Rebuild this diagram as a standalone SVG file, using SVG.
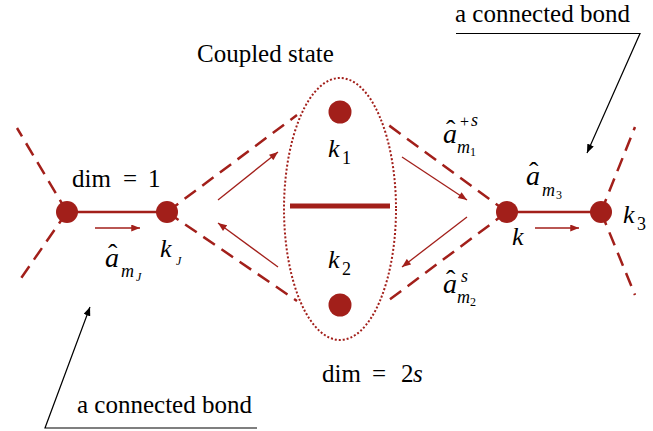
<svg xmlns="http://www.w3.org/2000/svg" width="653" height="431" viewBox="0 0 653 431">
<defs>
<marker id="ra" viewBox="0 0 10 8" refX="10" refY="4" markerWidth="10" markerHeight="7" markerUnits="userSpaceOnUse" orient="auto"><path d="M0,0 L10,4 L0,8 Z" fill="#a21f1a"/></marker>
<marker id="ka" viewBox="0 0 10 8" refX="10" refY="4" markerWidth="9" markerHeight="7" markerUnits="userSpaceOnUse" orient="auto"><path d="M0,0 L10,4 L0,8 Z" fill="#000"/></marker>
</defs>
<style>
.dash{stroke:#a21f1a;stroke-width:2.5;stroke-dasharray:14 8;fill:none}
.bond{stroke:#a21f1a;stroke-width:2.5;fill:none}
.arr{stroke:#a21f1a;stroke-width:1.3;fill:none;marker-end:url(#ra)}
.call{stroke:#000;stroke-width:1.2;fill:none}
.node{fill:#a21f1a}
.t{font-size:25px}
.i{font-style:italic;font-size:26px}
.a{font-style:italic;font-size:28px}
.s{font-style:italic;font-size:18px}
.n{font-size:18px}
.p{font-size:16px}
.ss{font-style:italic;font-size:12px}
.sn{font-size:12px}
.hat{font-style:normal;font-size:28px}
</style>
<rect width="653" height="431" fill="#fff"/>
<g id="connectors">
<path class="dash" d="M67,212 L17,128"/>
<path class="dash" d="M67,212 L17,284"/>
<path class="bond" d="M67,212 L167,212"/>
<path class="dash" d="M167,212 L297,115"/>
<path class="dash" d="M167,212 L297,301"/>
<path class="dash" d="M507,212 L383,121"/>
<path class="dash" d="M507,212 L385,303"/>
<path class="bond" d="M507,212 L601,212"/>
<path class="dash" d="M601,212 L635,127"/>
<path class="dash" d="M601,212 L635,295"/>
<path class="arr" d="M95,228 L140,228"/>
<path class="arr" d="M218,200 L278,152"/>
<path class="arr" d="M278,267 L218,223"/>
<path class="arr" d="M402,157 L467,200"/>
<path class="arr" d="M467,217 L402,267"/>
<path class="arr" d="M535,228 L579,228"/>
<path class="call" d="M257,428 L45,428 L90,307" marker-end="url(#ka)"/>
<path class="call" d="M456,33.5 L640,33.5 L587,153" marker-end="url(#ka)"/>
</g>
<g id="coupled">
<ellipse cx="340" cy="209" rx="56" ry="131" fill="none" stroke="#a21f1a" stroke-width="2" stroke-dasharray="2 2"/>
<path d="M290,206 L390,206" stroke="#a21f1a" stroke-width="5"/>
</g>
<g font-family="'Liberation Serif', 'Times New Roman', 'DejaVu Serif', serif" fill="#000">
<g id="n-left"><circle class="node" cx="67" cy="212" r="11"/></g>
<g id="n-kJ"><circle class="node" cx="167" cy="212" r="11"/>
<text class="i" x="160" y="257">k</text><text class="ss" x="176" y="265">J</text></g>
<g id="n-k1"><circle class="node" cx="340" cy="112" r="11.5"/>
<text class="i" x="328" y="157">k</text><text class="n" x="342" y="164">1</text></g>
<g id="n-k2"><circle class="node" cx="340" cy="305" r="11.5"/>
<text class="i" x="328" y="268">k</text><text class="n" x="342" y="275">2</text></g>
<g id="n-k"><circle class="node" cx="507" cy="212" r="11"/>
<text class="i" x="512" y="245">k</text></g>
<g id="n-k3"><circle class="node" cx="601" cy="212" r="11"/>
<text class="i" x="623" y="223">k</text><text class="n" x="637" y="230">3</text></g>
<g id="labels">
<text class="t" x="197" y="62">Coupled state</text>
<text class="t" x="455" y="22">a connected bond</text>
<text class="t" x="77" y="413">a connected bond</text>
<text class="t" y="187"><tspan x="72">dim</tspan><tspan x="123">=</tspan><tspan x="148">1</tspan></text>
<text class="t" y="382"><tspan x="322">dim</tspan><tspan x="372">=</tspan><tspan x="401">2</tspan><tspan x="413" font-style="italic">s</tspan></text>
<text class="a" x="105" y="267">a<tspan class="hat" x="108" y="263">ˆ</tspan></text><text class="s" x="121" y="277">m</text><text class="ss" x="136" y="281">J</text>
<text class="a" x="443" y="143">a<tspan class="hat" x="446" y="139">ˆ</tspan></text><text class="p" x="460" y="127">+</text><text class="s" x="471" y="126">s</text><text class="s" x="457" y="153">m</text><text class="sn" x="470" y="156">1</text>
<text class="a" x="443" y="293">a<tspan class="hat" x="446" y="289">ˆ</tspan></text><text class="s" x="461" y="282">s</text><text class="s" x="457" y="303">m</text><text class="sn" x="470" y="306">2</text>
<text class="a" x="526" y="185">a<tspan class="hat" x="529" y="181">ˆ</tspan></text><text class="s" x="542" y="196">m</text><text class="sn" x="556" y="199">3</text>
</g>
</g>
</svg>
